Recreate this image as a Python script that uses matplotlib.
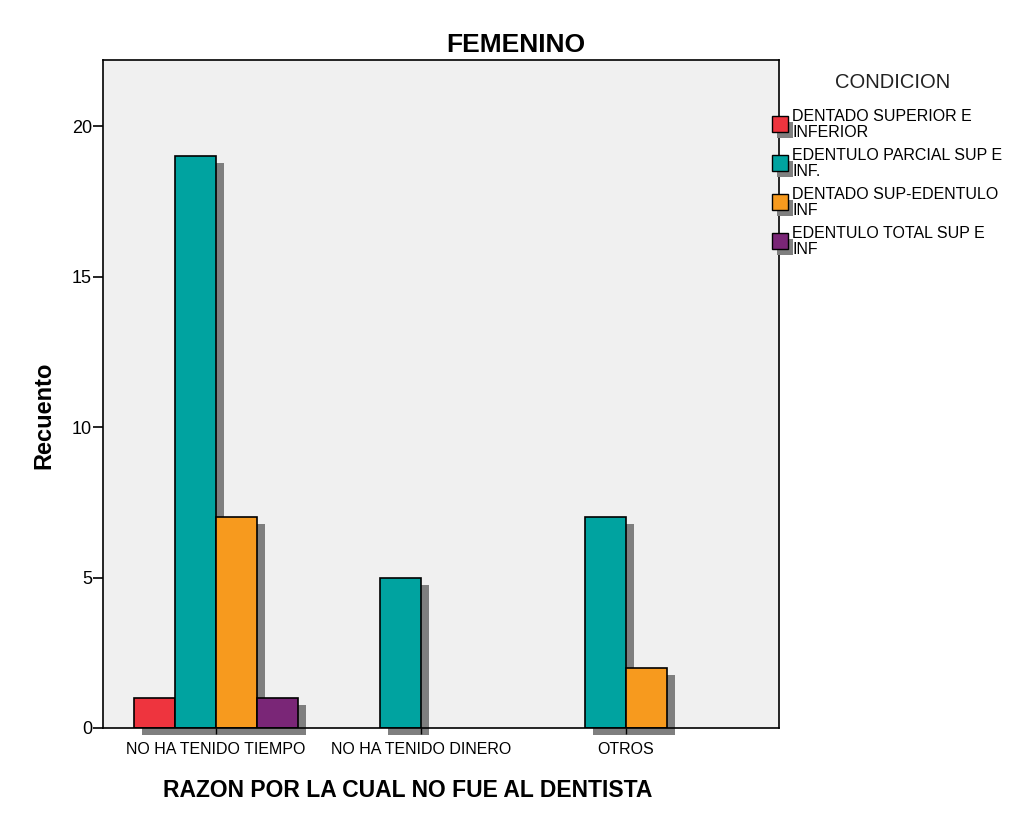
import matplotlib
matplotlib.use("Agg")
import matplotlib.pyplot as plt
from matplotlib.patches import Rectangle
import numpy as np

plt.rcParams['font.family'] = ['Liberation Sans', 'DejaVu Sans']

categories = ['NO HA TENIDO TIEMPO', 'NO HA TENIDO DINERO', 'OTROS']
series = ['DENTADO SUPERIOR E\nINFERIOR', 'EDENTULO PARCIAL SUP E\nINF.',
          'DENTADO SUP-EDENTULO\nINF', 'EDENTULO TOTAL SUP E\nINF']
dentado = [1, 0, 0]
parcial = [19, 5, 7]
sup_edentulo = [7, 0, 2]
total = [1, 0, 0]
values = [dentado, parcial, sup_edentulo, total]
colors = ['#EE343E', '#00A3A0', '#F79A1E', '#7A2677']

W, H = 1016, 814
fig = plt.figure(figsize=(W / 100, H / 100), dpi=100)
ax = fig.add_axes([103 / W, 1 - 728 / H, 676 / W, 668 / H])
ax.set_facecolor('#F0F0F0')

x = np.arange(len(categories))
width = 0.2
dx, dy = 8 / 205, 7 / 30.1

for i, vals in enumerate(values):
    pos = x + (i - 2) * width
    for p, v in zip(pos, vals):
        if v == 0:
            continue
        # drop shadow
        ax.bar(p + dx, v, width, bottom=-dy, color='#7F7F7F', linewidth=0,
               align='edge', zorder=1, clip_on=False)
        ax.bar(p, v, width, color=colors[i], edgecolor='black', linewidth=1.2,
               align='edge', zorder=2)

ax.set_xlim(-0.551, 2.746)
ax.set_ylim(0, 22.2)
ax.set_xticks(x)
ax.set_xticklabels(categories, fontsize=11.5)
ax.set_yticks([0, 5, 10, 15, 20])
ax.tick_params(axis='y', labelsize=13, length=7, width=1.2, pad=1)
ax.tick_params(axis='x', length=4, width=1, pad=6)
for s in ax.spines.values():
    s.set_linewidth(1.2)

fig.text(516 / W, 1 - 52 / H, 'FEMENINO', fontsize=19, fontweight='bold',
         ha='center', va='baseline')
fig.text(408 / W, 1 - 797 / H, 'RAZON POR LA CUAL NO FUE AL DENTISTA',
         fontsize=16.5, fontweight='bold', ha='center', va='baseline')
fig.text(44 / W, 1 - 415 / H, 'Recuento', fontsize=17, fontweight='bold',
         ha='center', va='center', rotation=90)

# legend drawn by hand (SPSS style with shadows)
fig.text(893 / W, 1 - 82 / H, 'CONDICION', fontsize=14.5, ha='center',
         va='center', color='#222222')
for i, lab in enumerate(series):
    ytop = 116 + i * 39
    fig.add_artist(Rectangle(((772 + 5) / W, 1 - (ytop + 16 + 6) / H),
                             16 / W, 16 / H, transform=fig.transFigure,
                             facecolor='#7F7F7F', linewidth=0))
    fig.add_artist(Rectangle((772 / W, 1 - (ytop + 16) / H), 16 / W, 16 / H,
                             transform=fig.transFigure, facecolor=colors[i],
                             edgecolor='black', linewidth=1))
    fig.text(792 / W, 1 - (ytop - 7) / H, lab, fontsize=11.5, ha='left',
             va='top', linespacing=1.05)

fig.savefig('out.png', dpi=100)
